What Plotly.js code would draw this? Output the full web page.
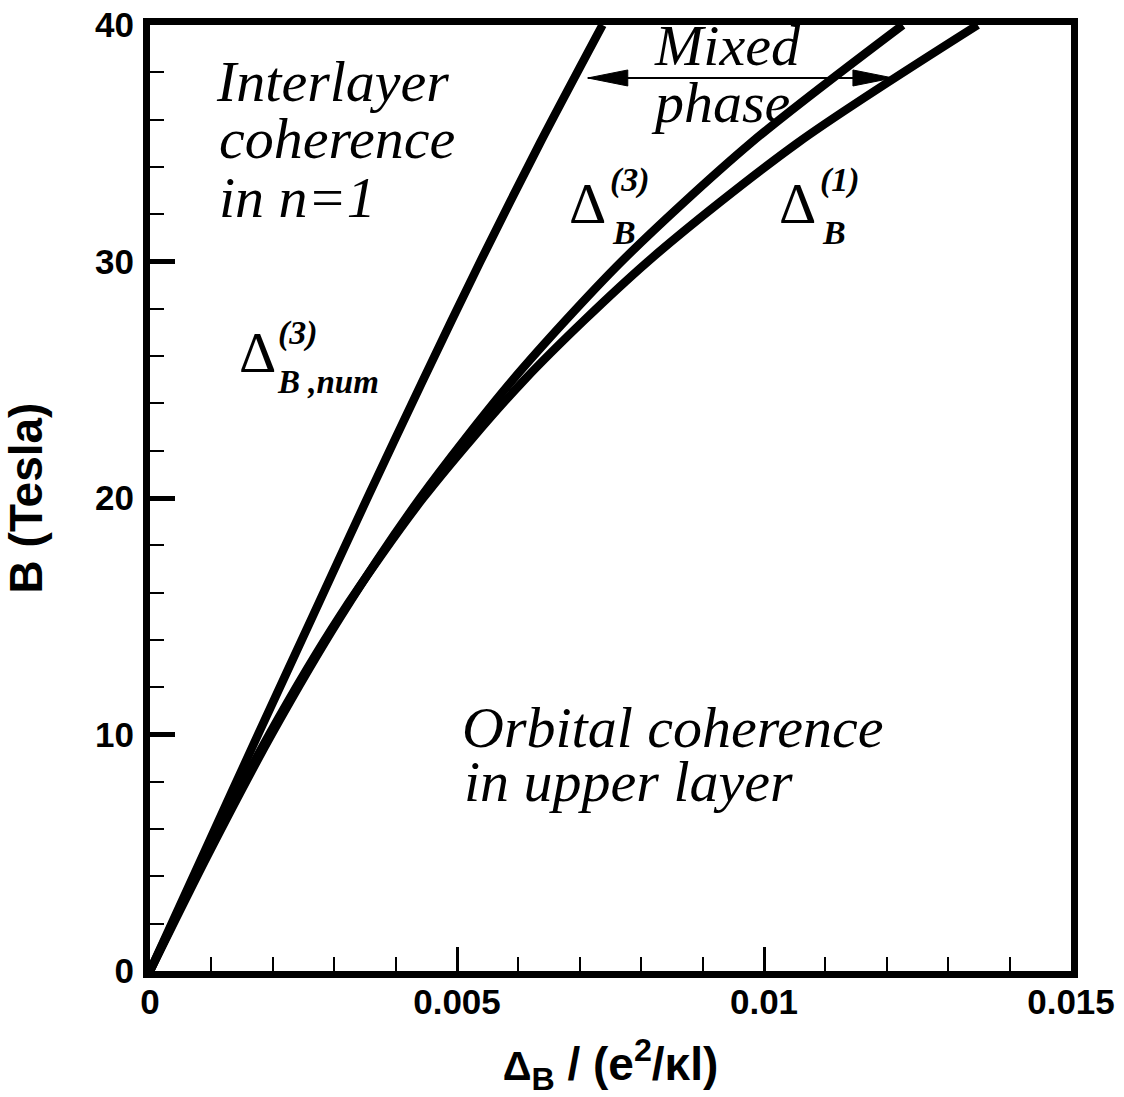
<!DOCTYPE html>
<html>
<head>
<meta charset="utf-8">
<script src="https://cdn.plot.ly/plotly-3.0.1.min.js"></script>
<style>html,body{margin:0;padding:0;background:#fff;}</style>
</head>
<body>
<div id="chart" style="width:1124px;height:1097px;"></div>
<script>
// ---- data ----
const fieldB      = [0, 5, 10, 15, 20, 25, 30, 35, 40];                 // B (Tesla)
const deltaNum3   = [0, 0.00088, 0.00176, 0.00265, 0.00354, 0.00445, 0.00538, 0.00635, 0.00737];
const delta3      = [0, 0.00096, 0.00198, 0.00311, 0.00440, 0.00591, 0.00768, 0.00978, 0.01226];
const delta1      = [0, 0.00093, 0.00194, 0.00309, 0.00445, 0.00610, 0.00811, 0.01054, 0.01348];
const xRange = [0, 0.015];
const yRange = [0, 40];
const arrowB = 37.76;              // field where the "Mixed phase" arrow sits
const arrowFrom = 0.00713, arrowTo = 0.0121;

// ---- layout geometry ----
const W = 1124, H = 1097;
const M = {l: 150, r: 53, t: 25, b: 126};
const PW = W - M.l - M.r, PH = H - M.t - M.b;
const px = v => (v - M.l) / PW;          // pixel -> paper x
const py = v => (H - M.b - v) / PH;      // pixel -> paper y

const lineStyle = {color: '#000', width: 8.5, shape: 'spline', smoothing: 0.8};
const traces = [
  {x: deltaNum3, y: fieldB, mode: 'lines', line: lineStyle, name: 'num', hoverinfo: 'skip'},
  {x: delta3,    y: fieldB, mode: 'lines', line: lineStyle, name: 'd3', hoverinfo: 'skip'},
  {x: delta1,    y: fieldB, mode: 'lines', line: lineStyle, name: 'd1', hoverinfo: 'skip'}
];

const SERIF = 'Liberation Serif, Times New Roman, serif';
const SANS = 'Liberation Sans, Arial, sans-serif';
function lab(text, left, baseline, size, opts) {
  opts = opts || {};
  return {
    text: text, xref: 'paper', yref: 'paper',
    x: px(left), y: py(baseline - 0.338 * size),
    xanchor: 'left', yanchor: 'middle', showarrow: false,
    borderpad: 0, borderwidth: 0,
    font: {family: opts.family || SERIF, size: size, color: '#000',
           style: opts.style || 'italic', weight: opts.weight || 'normal'}
  };
}
const BI = {style: 'italic', weight: 'bold'};
const UP = {style: 'normal', weight: 'normal'};
const annotations = [
  lab('Interlayer', 216, 101, 58),
  lab('coherence', 219, 158, 58),
  lab('in n=1', 219, 217, 58),
  lab('Mixed', 654, 65, 58),
  lab('phase', 651, 122, 58),
  lab('Orbital coherence', 462, 747, 58),
  lab('in upper layer', 464, 801, 58),
  // Delta_B^(3)
  lab('Δ', 569, 223, 58, UP),
  lab('(3)', 610, 191, 34, BI),
  lab('B', 612, 244, 34, BI),
  // Delta_B^(1)
  lab('Δ', 779, 223, 58, UP),
  lab('(1)', 820, 191, 34, BI),
  lab('B', 822, 244, 34, BI),
  // Delta_B,num^(3)
  lab('Δ', 239, 372, 58, UP),
  lab('(3)', 278, 344, 34, BI),
  lab('B ,num', 277, 393, 33, BI)
];

const shapes = [
  {type: 'line', xref: 'x', yref: 'y', x0: arrowFrom, x1: arrowTo, y0: arrowB, y1: arrowB,
   line: {color: '#000', width: 2}},
  {type: 'path', xref: 'x', yref: 'y', xsizemode: 'pixel', ysizemode: 'pixel',
   xanchor: arrowFrom, yanchor: arrowB, path: 'M0,0L40,8L40,-8Z',
   fillcolor: '#000', line: {color: '#000', width: 1}},
  {type: 'path', xref: 'x', yref: 'y', xsizemode: 'pixel', ysizemode: 'pixel',
   xanchor: arrowTo, yanchor: arrowB, path: 'M0,0L-40,8L-40,-8Z',
   fillcolor: '#000', line: {color: '#000', width: 1}}
];

const tickFont = {family: SANS, size: 35, color: '#000', weight: 'bold'};
const layout = {
  width: W, height: H, margin: M,
  paper_bgcolor: '#fff', plot_bgcolor: '#fff', showlegend: false,
  xaxis: {
    range: xRange, tickmode: 'linear', tick0: 0, dtick: 0.005,
    ticks: 'inside', ticklen: 24, tickwidth: 3, tickcolor: '#000',
    minor: {dtick: 0.001, tick0: 0, ticks: 'inside', ticklen: 14, tickwidth: 2, tickcolor: '#000', showgrid: false},
    showline: true, linewidth: 7, linecolor: '#000', mirror: true,
    showgrid: false, zeroline: false, tickfont: tickFont, ticklabelstandoff: -6,
    title: {text: '<span style="font-size:40px">Δ</span><sub>B</sub> / (e<sup>2</sup>/κl)',
            font: {family: SANS, size: 46, color: '#000', weight: 'bold'}, standoff: 32},
    automargin: false, fixedrange: true
  },
  yaxis: {
    range: yRange, tickmode: 'linear', tick0: 0, dtick: 10,
    ticks: 'inside', ticklen: 25, tickwidth: 5, tickcolor: '#000',
    minor: {dtick: 2, tick0: 0, ticks: 'inside', ticklen: 14, tickwidth: 2, tickcolor: '#000', showgrid: false},
    showline: true, linewidth: 7, linecolor: '#000', mirror: true,
    showgrid: false, zeroline: false, tickfont: tickFont, ticklabelstandoff: 2,
    title: {text: 'B (Tesla)', font: {family: SANS, size: 46, color: '#000', weight: 'bold'}, standoff: 44},
    automargin: false, fixedrange: true
  },
  annotations: annotations,
  shapes: shapes
};

Plotly.newPlot('chart', traces, layout, {displayModeBar: false, staticPlot: true});
</script>
</body>
</html>
